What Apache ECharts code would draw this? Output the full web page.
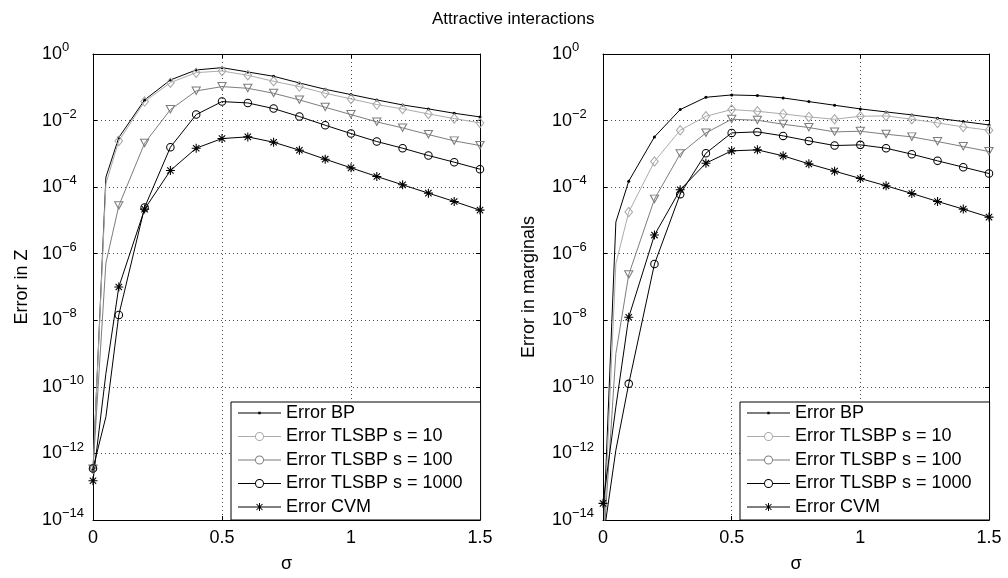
<!DOCTYPE html>
<html><head><meta charset="utf-8">
<script src="https://cdn.jsdelivr.net/npm/echarts@6/dist/echarts.min.js"></script>
<style>html,body{margin:0;padding:0;background:#fff}#c{width:1008px;height:578px}</style>
</head><body><div id="c"></div>
<script>
// ---------- data ----------
const titleText = 'Attractive interactions';
const seriesNames = ['Error BP', 'Error TLSBP s = 10', 'Error TLSBP s = 100', 'Error TLSBP s = 1000', 'Error CVM'];
const sigma = [0, 0.05, 0.1, 0.2, 0.3, 0.4, 0.5, 0.6, 0.7, 0.8, 0.9, 1.0, 1.1, 1.2, 1.3, 1.4, 1.5];

// Left panel: Error in Z, stored as log10(error)
const zBP     = [-12.50, -3.70, -2.51, -1.38, -0.78, -0.48, -0.41, -0.54, -0.67, -0.87, -1.06, -1.22, -1.38, -1.53, -1.65, -1.78, -1.89];
const zS10    = [-12.47, -3.90, -2.61, -1.43, -0.86, -0.56, -0.51, -0.64, -0.82, -0.98, -1.18, -1.35, -1.52, -1.65, -1.80, -1.94, -2.07];
const zS100   = [-12.47, -6.28, -4.56, -2.68, -1.67, -1.11, -0.98, -1.03, -1.18, -1.38, -1.60, -1.82, -2.04, -2.22, -2.42, -2.61, -2.75];
const zS1000  = [-12.45, -10.90, -7.84, -4.61, -2.80, -1.82, -1.43, -1.47, -1.64, -1.88, -2.14, -2.39, -2.63, -2.83, -3.05, -3.25, -3.46];
const zCVM    = [-12.82, -9.60, -7.00, -4.66, -3.50, -2.83, -2.54, -2.49, -2.65, -2.89, -3.16, -3.42, -3.68, -3.93, -4.18, -4.43, -4.69];

// Right panel: Error in marginals, stored as log10(error)
const mBP     = [-14.60, -5.05, -3.82, -2.49, -1.67, -1.30, -1.23, -1.25, -1.32, -1.43, -1.54, -1.65, -1.74, -1.83, -1.93, -2.03, -2.13];
const mS10    = [-15.00, -6.30, -4.75, -3.23, -2.29, -1.87, -1.67, -1.72, -1.80, -1.89, -1.96, -1.87, -1.86, -1.96, -2.07, -2.19, -2.29];
const mS100   = [-15.00, -9.00, -6.63, -4.36, -3.00, -2.37, -1.96, -1.99, -2.11, -2.21, -2.34, -2.32, -2.41, -2.49, -2.63, -2.78, -2.93];
const mS1000  = [-14.60, -11.90, -9.91, -6.31, -4.21, -2.98, -2.37, -2.34, -2.46, -2.61, -2.75, -2.73, -2.83, -3.01, -3.21, -3.40, -3.59];
const mCVM    = [-13.50, -10.60, -7.91, -5.44, -4.08, -3.28, -2.91, -2.88, -3.06, -3.30, -3.52, -3.74, -3.96, -4.19, -4.43, -4.66, -4.90];

const xTickValues = [0, 0.5, 1, 1.5];

// ---------- styling ----------
const FONT = '"Liberation Sans", Arial, Helvetica, sans-serif';
const STAR = 'path://M-1.2 -10L1.2 -10L1.2 10L-1.2 10Z M-10 -1.2L10 -1.2L10 1.2L-10 1.2Z M-7.92 -6.22L-6.22 -7.92L7.92 6.22L6.22 7.92Z M6.22 -7.92L7.92 -6.22L-6.22 7.92L-7.92 6.22Z';
const RING = 'path://M-10 0A10 10 0 1 1 10 0A10 10 0 1 1 -10 0Z M-7.6 0A7.6 7.6 0 1 0 7.6 0A7.6 7.6 0 1 0 -7.6 0Z';
const TRI_DOWN = 'path://M-10 -10L10 -10L0 10Z M-6.44 -7.8L0 5.08L6.44 -7.8Z';
const DIAMOND = 'path://M0 -10L10 0L0 10L-10 0Z M0 -6.9L-6.9 0L0 6.9L6.9 0Z';
const ICON_DOT = 'path://M0 5.5L43 5.5L43 6.5L0 6.5Z M20.3 4.8L22.7 4.8L22.7 7.2L20.3 7.2Z';
const ICON_CIRC = 'path://M0 5.5L17 5.5L17 6.5L0 6.5Z M26 5.5L43 5.5L43 6.5L26 6.5Z M17 6A4.5 4.5 0 1 1 26 6A4.5 4.5 0 1 1 17 6Z M18 6A3.5 3.5 0 1 0 25 6A3.5 3.5 0 1 0 18 6Z';
const ICON_STAR = 'path://M0 5.5L43 5.5L43 6.5L0 6.5Z M21 2L22 2L22 10L21 10Z M18.15 3.35L18.85 2.65L24.85 8.65L24.15 9.35Z M24.15 2.65L24.85 3.35L18.85 9.35L18.15 8.65Z';

const styles = [
  {color: '#000000', symbol: 'circle', size: 3, icon: ICON_DOT},
  {color: '#ababab', symbol: DIAMOND, size: [9, 11], icon: ICON_CIRC},
  {color: '#7d7d7d', symbol: TRI_DOWN, size: [10, 9], icon: ICON_CIRC},
  {color: '#000000', symbol: RING, size: 8.5, icon: ICON_CIRC},
  {color: '#000000', symbol: STAR, size: 9, icon: ICON_STAR}
];

function onMarkerGrid(s) { return Math.abs(s * 10 - Math.round(s * 10)) < 1e-9; }

function makeSeries(k, exps, xi, yi) {
  const st = styles[k];
  return {
    name: seriesNames[k], type: 'line', xAxisIndex: xi, yAxisIndex: yi,
    data: sigma.map((s, i) => {
      const item = {value: [s, Math.pow(10, exps[i])]};
      if (!onMarkerGrid(s)) item.symbol = 'none';
      return item;
    }),
    symbol: st.symbol, symbolSize: st.size, symbolKeepAspect: false,
    showSymbol: true, showAllSymbol: true, clip: true, animation: false,
    lineStyle: {color: st.color, width: 1},
    itemStyle: {color: st.color, borderWidth: 0},
    emphasis: {disabled: true}
  };
}

function expLabel(v) {
  const e = Math.round(Math.log10(v));
  return '{b|10}{s|' + (e < 0 ? '\u2212' + (-e) : String(e)) + '}';
}

const lineBlack = {color: '#000', width: 1};
const dotted = {show: true, lineStyle: {color: '#4a4a4a', width: 1, type: [1, 3]}};

function xAxes(gi) {
  return [
    {gridIndex: gi, type: 'value', min: 0, max: 1.5, interval: 0.5, position: 'bottom',
     name: '\u03c3', nameLocation: 'middle', nameGap: 35,
     nameTextStyle: {fontSize: 18, fontFamily: FONT, color: '#000'},
     axisLine: {onZero: false, lineStyle: lineBlack},
     axisTick: {inside: true, length: 4, lineStyle: lineBlack},
     axisLabel: {fontSize: 18, fontFamily: FONT, color: '#000', margin: 9,
       formatter: v => xTickValues.indexOf(v) >= 0 ? String(v) : ''},
     splitLine: dotted},
    {gridIndex: gi, type: 'value', min: 0, max: 1.5, interval: 0.5, position: 'top',
     axisLine: {onZero: false, lineStyle: lineBlack},
     axisTick: {inside: true, length: 4, lineStyle: lineBlack},
     axisLabel: {show: false}, splitLine: {show: false}}
  ];
}
function yAxes(gi, name, gap) {
  return [
    {gridIndex: gi, type: 'log', logBase: 10, min: 1e-14, max: 1, interval: 2, position: 'left',
     name: name, nameLocation: 'middle', nameGap: gap,
     nameTextStyle: {fontSize: 18, fontFamily: FONT, color: '#000'},
     axisLine: {onZero: false, lineStyle: lineBlack},
     axisTick: {inside: true, length: 4, lineStyle: lineBlack},
     axisLabel: {margin: 4, formatter: expLabel, align: 'right',
       rich: {
         b: {fontSize: 18, fontFamily: FONT, color: '#000', width: 20, align: 'left', lineHeight: 26},
         s: {fontSize: 13, fontFamily: FONT, color: '#000', width: 27, align: 'left', lineHeight: 14, verticalAlign: 'top'}
       }},
     splitLine: dotted},
    {gridIndex: gi, type: 'log', logBase: 10, min: 1e-14, max: 1, interval: 2, position: 'right',
     axisLine: {onZero: false, lineStyle: lineBlack},
     axisTick: {inside: true, length: 4, lineStyle: lineBlack},
     axisLabel: {show: false}, splitLine: {show: false}}
  ];
}

function legendFor(left) {
  return {
    left: left, top: 402, orient: 'vertical', selectedMode: false,
    itemWidth: 43, itemHeight: 12, itemGap: 3.5, padding: [1, 18, 3, 7],
    borderColor: '#000', borderWidth: 1, backgroundColor: '#fff', borderRadius: 0,
    symbolKeepAspect: true,
    itemStyle: {borderWidth: 0},
    textStyle: {fontSize: 18, fontFamily: FONT, color: '#000', lineHeight: 20},
    data: seriesNames.map((n, k) => ({name: n, icon: styles[k].icon}))
  };
}

const option = {
  backgroundColor: '#fff',
  animation: false,
  title: {text: titleText, left: 432, top: 11, padding: 0,
    textStyle: {fontSize: 17, fontWeight: 'normal', fontFamily: FONT, color: '#000'}},
  grid: [
    {left: 93, top: 54, width: 387, height: 473},
    {left: 603, top: 54, width: 386, height: 473}
  ],
  xAxis: xAxes(0).concat(xAxes(1)),
  yAxis: yAxes(0, 'Error in Z', 62).concat(yAxes(1, 'Error in marginals', 65)),
  legend: [legendFor(231), legendFor(740)],
  series: [
    makeSeries(0, zBP, 0, 0), makeSeries(1, zS10, 0, 0), makeSeries(2, zS100, 0, 0),
    makeSeries(3, zS1000, 0, 0), makeSeries(4, zCVM, 0, 0),
    makeSeries(0, mBP, 2, 2), makeSeries(1, mS10, 2, 2), makeSeries(2, mS100, 2, 2),
    makeSeries(3, mS1000, 2, 2), makeSeries(4, mCVM, 2, 2)
  ]
};

const chart = echarts.init(document.getElementById('c'), null, {renderer: 'canvas'});
chart.setOption(option);
</script>
</body></html>
